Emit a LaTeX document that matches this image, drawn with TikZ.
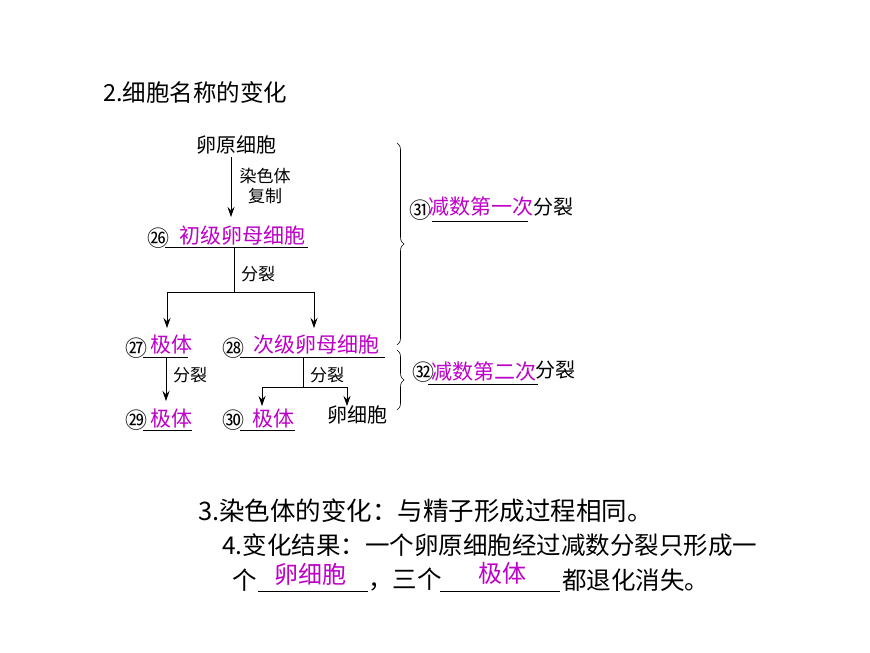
\documentclass[tikz,border=0pt]{standalone}
\usepackage{fontspec}
\setmainfont{Noto Sans CJK SC}
\usetikzlibrary{arrows.meta,decorations.pathreplacing}
\definecolor{ansmag}{RGB}{190,0,200}
\begin{document}
\begin{tikzpicture}[x=1pt,y=-1pt,
    lbl/.style={inner sep=0, font=\fontsize{20}{20}\selectfont},
    sml/.style={inner sep=0, font=\fontsize{17}{17}\selectfont},
    ans/.style={inner sep=0, text=ansmag, font=\fontsize{21}{21}\selectfont},
    num/.style={inner sep=0, font=\fontsize{22}{22}\selectfont},
    big/.style={inner sep=0, anchor=west, font=\fontsize{24.5}{24.5}\selectfont},
    arr/.style={-{Stealth[length=10pt,width=7pt]}, thick},
    ln/.style={thick},
    brc/.style={decorate, decoration={brace, amplitude=7pt}, semithick}]
\useasboundingbox (0,0) rectangle (870,653);
% title
\node[big, font=\fontsize{23.5}{23.5}\selectfont] (title) at (103,92) {2.细胞名称的变化};
% first division
\node[lbl] (oog) at (236,145) {卵原细胞};
\node[sml, align=center, font=\fontsize{17}{20}\selectfont] (rep) at (265,186) {染色体\\复制};
\node[num] (n26) at (158,238) {㉖};
\node[ans] (pri) at (242,236) {初级卵母细胞};
\draw[ln] (165,247) -- (308,247);
\draw[arr] (231,157) -- (231,217);
\node[sml] (d1) at (258,274) {分裂};
\coordinate (s1) at (234,247); \coordinate (j1) at (234,292);
\coordinate (l1) at (167,292); \coordinate (r1) at (314,292);
\draw[ln] (s1) -- (j1) (l1) -- (r1);
\draw[arr] (l1) -- (167,328);
\draw[arr] (r1) -- (314,328);
% second row
\node[num] (n27) at (136,348) {㉗};
\node[ans] (pb1) at (171,345) {极体};
\draw[ln] (143,357) -- (188,357);
\node[num] (n28) at (233,348) {㉘};
\node[ans] (sec) at (316,345) {次级卵母细胞};
\draw[ln] (240,357) -- (385,357);
% second division
\draw[arr] (166,358) -- (166,401);
\node[sml] (d2) at (190,375) {分裂};
\coordinate (s2) at (303,357); \coordinate (j2) at (303,387);
\coordinate (l2) at (262,387); \coordinate (r2) at (347,387);
\draw[ln] (s2) -- (j2) (l2) -- (r2);
\draw[arr] (l2) -- (262,406);
\draw[arr] (r2) -- (347,406);
\node[sml] (d3) at (327,375) {分裂};
\node[num] (n29) at (136,420) {㉙};
\node[ans] (pb2) at (171,419) {极体};
\draw[ln] (143,430) -- (192,430);
\node[num] (n30) at (233,420) {㉚};
\node[ans] (pb3) at (273,419) {极体};
\draw[ln] (240,430) -- (295,430);
\node[lbl] (egg) at (357,415) {卵细胞};
% braces
\draw[brc] (397,143) -- (397,345);
\draw[brc] (397,350) -- (397,410);
\node[num] (n31) at (420,210) {㉛};
\node[ans] (m1) at (481,207) {减数第一次};
\draw[ln] (432,221) -- (528,221);
\node[lbl] (f1) at (553,207) {分裂};
\node[num] (n32) at (423,372) {㉜};
\node[ans] (m2) at (484,372) {减数第二次};
\draw[ln] (428,384) -- (538,384);
\node[lbl] (f2) at (555,370) {分裂};
% text
\node[big, font=\fontsize{25.5}{25.5}\selectfont] (t3) at (198,511) {3.染色体的变化：与精子形成过程相同。};
\node[big] (t4) at (222,545) {4.变化结果：一个卵原细胞经过减数分裂只形成一};
\node[big] (t5a) at (232,580) {个};
\draw[ln] (258,591) -- (368,591);
\node[ans, font=\fontsize{24}{24}\selectfont] (egg2) at (310,574) {卵细胞};
\node[big] (t5b) at (368,580) {，三个};
\draw[ln] (440,591) -- (560,591);
\node[ans, font=\fontsize{24}{24}\selectfont] (pb4) at (502,573) {极体};
\node[big] (t5c) at (562,580) {都退化消失。};
\end{tikzpicture}
\end{document}
